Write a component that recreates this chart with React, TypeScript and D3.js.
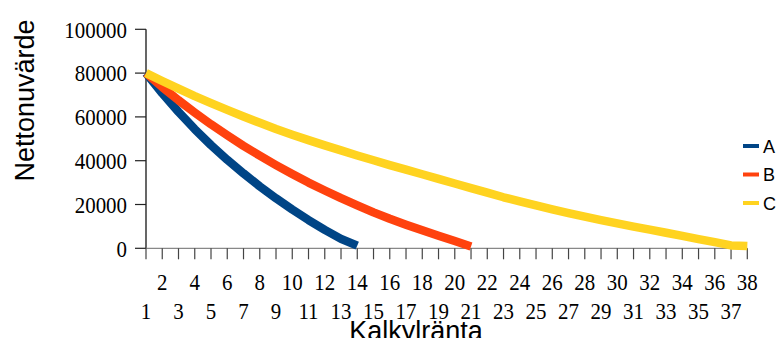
import React from "react";
import * as d3 from "d3";

const WIDTH = 778;
const HEIGHT = 338;

// Discount rate (%) categories on the x axis
const rates = [
  1, 2, 3, 4, 5, 6, 7, 8, 9, 10, 11, 12, 13, 14, 15, 16, 17, 18, 19, 20,
  21, 22, 23, 24, 25, 26, 27, 28, 29, 30, 31, 32, 33, 34, 35, 36, 37, 38,
];

// Net present value per rate for each alternative
const seriesA = [
  80000, 70800, 62300, 54400, 47100, 40400, 34200, 28300, 22800, 17700,
  12900, 8400, 4300, 1200,
];
const seriesB = [
  80000, 73600, 67600, 62000, 56600, 51600, 46800, 42300, 38000, 33900,
  30000, 26400, 22900, 19600, 16400, 13500, 10800, 8200, 5700, 3300, 800,
];
const seriesC = [
  80000, 76400, 72900, 69500, 66300, 63200, 60200, 57300, 54500, 51900,
  49400, 47000, 44700, 42400, 40200, 38000, 35900, 33800, 31700, 29600,
  27500, 25400, 23300, 21400, 19600, 17800, 16100, 14500, 12900, 11400,
  9900, 8500, 7100, 5700, 4200, 2800, 1300, 1000,
];

const yTicks = [0, 20000, 40000, 60000, 80000, 100000];
const seriesNames = ["A", "B", "C"];
const seriesColors = ["#004586", "#ff420e", "#ffd320"];
const yTitle = "Nettonuvärde";
const xTitle = "Kalkylränta";

// Tick labels: slightly narrowed digits
const TICK_FONT = "Times New Roman, Liberation Serif, Tinos, Liberation Sans, Arial, sans-serif";
const TICK_SIZE = 23;
const TICK_SQUEEZE = 0.91;
const SANS = "Liberation Sans, Arial, Helvetica, sans-serif";

export default function App() {
  const x = d3
    .scalePoint<number>()
    .domain(rates)
    .range([146, 747.3]);
  const y = d3.scaleLinear().domain([0, 100000]).range([248.3, 29.3]);

  const line = d3
    .line<number>()
    .x((_, i) => x(rates[i]) as number)
    .y((d) => y(d));

  const allSeries = [seriesA, seriesB, seriesC];
  const x0 = x(rates[0]) as number;
  const xEnd = x(rates[rates.length - 1]) as number;

  return (
    <div style={{ position: "fixed", left: 0, top: 0 }}>
      <svg
        width={WIDTH}
        height={HEIGHT}
        viewBox={`0 0 ${WIDTH} ${HEIGHT}`}
        style={{ display: "block", background: "#fff" }}
      >
        <rect width={WIDTH} height={HEIGHT} fill="#fff" />

        {/* y axis */}
        <line x1={x0} x2={x0} y1={y(100000)} y2={y(0)} stroke="#000" strokeWidth={1.2} />
        {yTicks.map((t) => (
          <g key={t}>
            <line x1={x0 - 11} x2={x0} y1={y(t)} y2={y(t)} stroke="#222" strokeWidth={1.2} />
            <text
              transform={`translate(127, ${y(t) + 8.2}) scale(${TICK_SQUEEZE}, 1)`}
              textAnchor="end"
              fontFamily={TICK_FONT}
              fontSize={TICK_SIZE}
              fill="#000"
            >
              {t}
            </text>
          </g>
        ))}

        {/* x axis */}
        <line x1={x0} x2={xEnd} y1={y(0)} y2={y(0)} stroke="#888" strokeWidth={1.2} />
        {rates.map((r, i) => (
          <g key={r}>
            <line
              x1={x(r)}
              x2={x(r)}
              y1={y(0)}
              y2={y(0) + 11}
              stroke="#444"
              strokeWidth={1.2}
            />
            <text
              transform={`translate(${x(r)}, ${i % 2 === 1 ? 289.8 : 319.2}) scale(${TICK_SQUEEZE}, 1)`}
              textAnchor="middle"
              fontFamily={TICK_FONT}
              fontSize={TICK_SIZE}
              fill="#000"
            >
              {r}
            </text>
          </g>
        ))}

        {/* series lines */}
        {allSeries.map((s, i) => (
          <path
            key={seriesNames[i]}
            d={line(s) ?? ""}
            fill="none"
            stroke={seriesColors[i]}
            strokeWidth={8.5}
            strokeLinejoin="round"
            strokeLinecap="butt"
          />
        ))}

        {/* legend */}
        {seriesNames.map((n, i) => {
          const ly = 146 + i * 28.5;
          return (
            <g key={n}>
              <line x1={743} x2={759} y1={ly} y2={ly} stroke={seriesColors[i]} strokeWidth={4} />
              <text x={763} y={ly + 6.5} fontFamily={SANS} fontSize={18} fill="#000">
                {n}
              </text>
            </g>
          );
        })}

        {/* axis titles */}
        <text
          transform={`translate(34.3, 100.5) rotate(-90)`}
          textAnchor="middle"
          fontFamily={SANS}
          fontSize={27}
          fill="#000"
        >
          {yTitle}
        </text>
        <text x={416} y={339.5} textAnchor="middle" fontFamily={SANS} fontSize={27} fill="#000">
          {xTitle}
        </text>
      </svg>
    </div>
  );
}
